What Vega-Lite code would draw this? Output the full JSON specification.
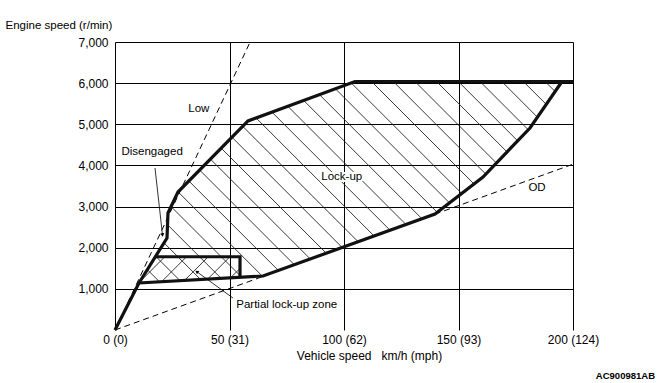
{
  "$schema": "https://vega.github.io/schema/vega-lite/v6.json",
  "width": 458,
  "height": 288,
  "autosize": "none",
  "padding": {"left": 115, "top": 42, "right": 87, "bottom": 53},
  "background": "white",
  "config": {
    "font": "Liberation Sans",
    "view": {"stroke": null},
    "axis": {"labelFont": "Liberation Sans", "titleFont": "Liberation Sans", "labelColor": "#000", "titleColor": "#000", "labelFontSize": 12, "titleFontSize": 11.5, "titleFontWeight": "normal", "gridColor": "#000", "gridOpacity": 1, "gridWidth": 1, "domain": false, "ticks": false, "labelFlush": false, "labelOverlap": false}
  },
  "title": {"text": "AC900981AB", "orient": "bottom", "anchor": "end", "frame": "group", "fontSize": 9.5, "fontWeight": "bold", "font": "Liberation Sans", "color": "#000", "dx": 82, "offset": 10},
  "datasets": {
    "hatch": [
      {"x": 19.43, "y": 1172, "x2": 14.10, "y2": 1468},
      {"x": 28.43, "y": 1198, "x2": 17.73, "y2": 1794},
      {"x": 37.38, "y": 1227, "x2": 21.40, "y2": 2117},
      {"x": 46.38, "y": 1254, "x2": 22.93, "y2": 2559},
      {"x": 55.33, "y": 1283, "x2": 24.50, "y2": 2999},
      {"x": 64.28, "y": 1313, "x2": 27.55, "y2": 3357},
      {"x": 71.35, "y": 1446, "x2": 32.27, "y2": 3621},
      {"x": 78.30, "y": 1587, "x2": 36.94, "y2": 3889},
      {"x": 85.28, "y": 1726, "x2": 41.66, "y2": 4154},
      {"x": 92.23, "y": 1867, "x2": 46.38, "y2": 4419},
      {"x": 99.21, "y": 2005, "x2": 51.09, "y2": 4684},
      {"x": 106.16, "y": 2146, "x2": 55.76, "y2": 4951},
      {"x": 113.14, "y": 2285, "x2": 61.62, "y2": 5153},
      {"x": 120.09, "y": 2426, "x2": 68.56, "y2": 5294},
      {"x": 127.07, "y": 2564, "x2": 75.50, "y2": 5435},
      {"x": 134.02, "y": 2705, "x2": 82.45, "y2": 5576},
      {"x": 140.70, "y": 2861, "x2": 89.39, "y2": 5714},
      {"x": 146.07, "y": 3089, "x2": 96.38, "y2": 5855},
      {"x": 151.40, "y": 3320, "x2": 103.32, "y2": 5996},
      {"x": 156.77, "y": 3549, "x2": 112.0, "y2": 6040},
      {"x": 161.92, "y": 3789, "x2": 121.5, "y2": 6040},
      {"x": 166.55, "y": 4059, "x2": 131.0, "y2": 6040},
      {"x": 171.18, "y": 4329, "x2": 140.4, "y2": 6040},
      {"x": 175.85, "y": 4596, "x2": 149.9, "y2": 6040},
      {"x": 180.48, "y": 4866, "x2": 159.4, "y2": 6040},
      {"x": 184.50, "y": 5170, "x2": 168.9, "y2": 6040},
      {"x": 188.38, "y": 5481, "x2": 178.3, "y2": 6040},
      {"x": 192.27, "y": 5792, "x2": 187.8, "y2": 6040}
    ],
    "cross": [
      {"x": 21.79, "y": 1782, "x2": 10.79, "y2": 1169},
      {"x": 31.27, "y": 1782, "x2": 20.35, "y2": 1174},
      {"x": 40.74, "y": 1782, "x2": 30.39, "y2": 1206},
      {"x": 50.22, "y": 1782, "x2": 40.44, "y2": 1237},
      {"x": 54.59, "y": 1497, "x2": 50.48, "y2": 1269}
    ],
    "dashed": [
      {"line": "Low", "o": 0, "x": 0, "y": 0},
      {"line": "Low", "o": 1, "x": 59, "y": 7000},
      {"line": "OD", "o": 0, "x": 0, "y": 0},
      {"line": "OD", "o": 1, "x": 200, "y": 4030}
    ],
    "outline": [
      {"seg": "a", "o": 0, "x": 0, "y": 0},
      {"seg": "a", "o": 1, "x": 10.48, "y": 1142},
      {"seg": "a", "o": 2, "x": 64.63, "y": 1313},
      {"seg": "a", "o": 3, "x": 139.74, "y": 2819},
      {"seg": "a", "o": 4, "x": 160.70, "y": 3719},
      {"seg": "a", "o": 5, "x": 181.22, "y": 4910},
      {"seg": "a", "o": 6, "x": 195.2, "y": 6040},
      {"seg": "b", "o": 0, "x": 200, "y": 6040},
      {"seg": "b", "o": 1, "x": 104.8, "y": 6040},
      {"seg": "b", "o": 2, "x": 58.08, "y": 5080},
      {"seg": "b", "o": 3, "x": 27.51, "y": 3354},
      {"seg": "b", "o": 4, "x": 23.14, "y": 2844},
      {"seg": "b", "o": 5, "x": 22.71, "y": 2236},
      {"seg": "b", "o": 6, "x": 10.48, "y": 1142},
      {"seg": "c", "o": 0, "x": 17.64, "y": 1780},
      {"seg": "c", "o": 1, "x": 54.59, "y": 1780},
      {"seg": "c", "o": 2, "x": 54.59, "y": 1281}
    ],
    "leaders": [
      {"name": "Disengaged", "x": 17.47, "y": 3937, "x2": 20.74, "y2": 2309},
      {"name": "Partial", "x": 51.5, "y": 778, "x2": 35.7, "y2": 1417}
    ],
    "labels": [
      {"x": 36.6, "y": 5364, "label": "Low"},
      {"x": 16.2, "y": 4334, "label": "Disengaged"},
      {"x": 99.0, "y": 3711, "label": "Lock-up"},
      {"x": 184.3, "y": 3444, "label": "OD"},
      {"x": 75.0, "y": 608, "label": "Partial lock-up zone"}
    ]
  },
  "encoding": {
    "x": {
      "field": "x", "type": "quantitative",
      "scale": {"domain": [0, 200], "nice": false, "zero": false},
      "axis": {
        "values": [0, 50, 100, 150, 200],
        "labelExpr": "datum.value == 0 ? '0 (0)' : datum.value == 50 ? '50 (31)' : datum.value == 100 ? '100 (62)' : datum.value == 150 ? '150 (93)' : '200 (124)'",
        "grid": true,
        "labelPadding": 4,
        "title": "Vehicle speed\u00a0\u00a0 km/h (mph)",
        "titleFontSize": 12,
        "titleX": 254,
        "titleY": 20,
        "titleBaseline": "top"
      }
    },
    "y": {
      "field": "y", "type": "quantitative",
      "scale": {"domain": [0, 7000], "nice": false, "zero": false},
      "axis": {
        "values": [1000, 2000, 3000, 4000, 5000, 6000, 7000],
        "format": ",d",
        "grid": true,
        "labelPadding": 7,
        "title": "Engine speed (r/min)",
        "titleAngle": 0,
        "titleX": -110,
        "titleY": -14,
        "titleAlign": "left",
        "titleBaseline": "alphabetic"
      }
    }
  },
  "layer": [
    {
      "data": {"name": "hatch"},
      "mark": {"type": "rule", "stroke": "#222", "strokeWidth": 0.9},
      "encoding": {"x2": {"field": "x2"}, "y2": {"field": "y2"}}
    },
    {
      "data": {"name": "cross"},
      "mark": {"type": "rule", "stroke": "#222", "strokeWidth": 0.9},
      "encoding": {"x2": {"field": "x2"}, "y2": {"field": "y2"}}
    },
    {
      "data": {"name": "dashed"},
      "mark": {"type": "line", "stroke": "#000", "strokeWidth": 1, "strokeDash": [6, 4]},
      "encoding": {"detail": {"field": "line"}, "order": {"field": "o"}}
    },
    {
      "data": {"name": "outline"},
      "mark": {"type": "line", "stroke": "#111", "strokeWidth": 3.2, "strokeJoin": "miter"},
      "encoding": {"detail": {"field": "seg"}, "order": {"field": "o"}}
    },
    {
      "data": {"name": "leaders"},
      "mark": {"type": "rule", "stroke": "#000", "strokeWidth": 0.8},
      "encoding": {"x2": {"field": "x2"}, "y2": {"field": "y2"}}
    },
    {
      "data": {"name": "leaders"},
      "transform": [{"filter": "datum.name == 'Disengaged'"}],
      "mark": {"type": "point", "shape": "triangle-up", "angle": 174, "size": 16, "filled": true, "fill": "#000", "opacity": 1},
      "encoding": {"x": {"field": "x2", "type": "quantitative"}, "y": {"field": "y2", "type": "quantitative"}}
    },
    {
      "data": {"name": "leaders"},
      "transform": [{"filter": "datum.name == 'Partial'"}],
      "mark": {"type": "point", "shape": "triangle-up", "angle": -54, "size": 16, "filled": true, "fill": "#000", "opacity": 1},
      "encoding": {"x": {"field": "x2", "type": "quantitative"}, "y": {"field": "y2", "type": "quantitative"}}
    },
    {
      "data": {"name": "labels"},
      "mark": {"type": "text", "fontSize": 11.5, "align": "center", "baseline": "middle", "stroke": "white", "strokeWidth": 4, "fill": "white", "font": "Liberation Sans"},
      "encoding": {"text": {"field": "label"}}
    },
    {
      "data": {"name": "labels"},
      "mark": {"type": "text", "fontSize": 11.5, "align": "center", "baseline": "middle", "fill": "#000", "font": "Liberation Sans"},
      "encoding": {"text": {"field": "label"}}
    }
  ]
}
